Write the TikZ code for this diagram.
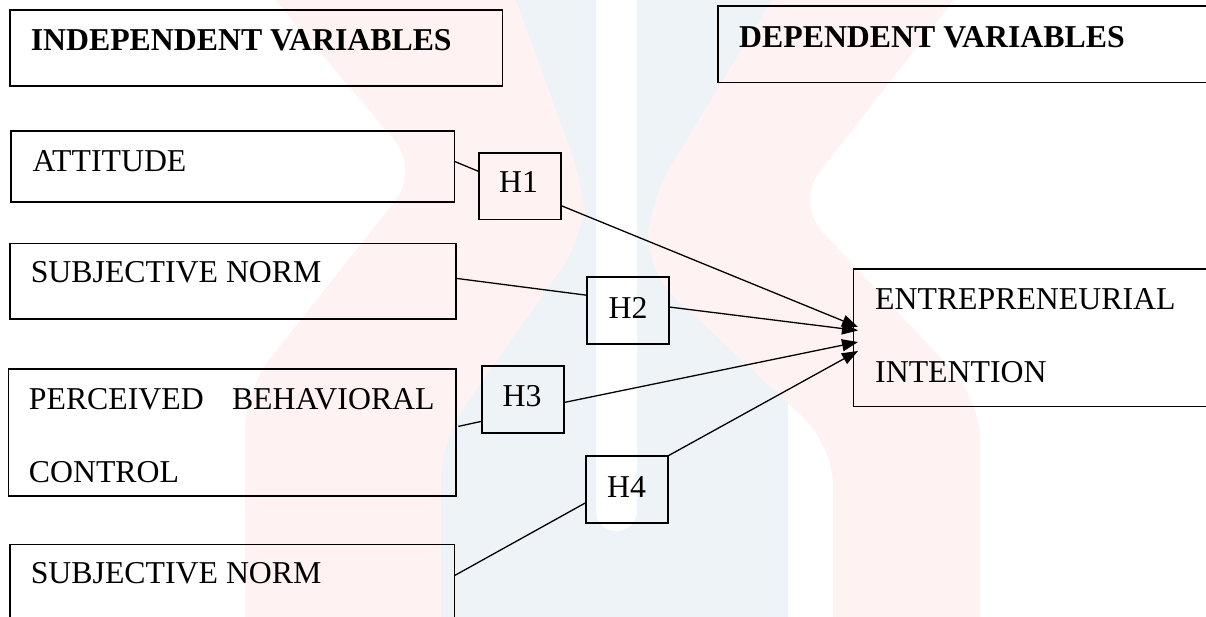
\documentclass[tikz,border=0pt]{standalone}
\usepackage{fontspec}
\setmainfont{Liberation Serif}
\usetikzlibrary{arrows.meta,calc}
\definecolor{wmpink}{HTML}{FEF2F2}
\definecolor{wmblue}{HTML}{EEF3F8}
\begin{document}
\begin{tikzpicture}[x=1pt,y=-1pt,
  box/.style={draw=black, line width=1.8pt, rectangle, inner sep=0pt, outer sep=0pt, anchor=north west},
  lbl/.style={anchor=base west, inner sep=0pt, font=\fontsize{31.8}{38}\selectfont},
  blbl/.style={anchor=base west, inner sep=0pt, font=\fontsize{31.8}{38}\selectfont\bfseries},
  conn/.style={line width=1.3pt, black},
  arr/.style={conn, -{Triangle[length=16pt,width=12pt]}}]
\useasboundingbox (0,0) rectangle (1206,617);
\clip (0,0) rectangle (1206,617);
\fill[white] (0,0) rectangle (1206,617);
% faint watermark
\fill[wmblue] (441,-20) rectangle (788,640);
\fill[white, rounded corners=20pt] (596,-20) -- (596,531) -- (637,531) -- (637,-20) -- cycle;
\fill[wmpink, rounded corners=40pt] (250,-30) -- (420,170) -- (245,390) -- (245,660) -- (441,660) -- (441,440) -- (585,235) -- (585,190) -- (505,-30) -- cycle;
\fill[wmpink, rounded corners=40pt] (790,-30) -- (650,200) -- (645,270) -- (833,445) -- (833,660) -- (980,660) -- (980,400) -- (795,203) -- (977,-30) -- cycle;

% boxes
\node[box, minimum width=492.9pt, minimum height=75.8pt] (ind) at (9.6,10.2) {};
\node[box, minimum width=520pt, minimum height=76.2pt] (dep) at (717.8,6.3) {};
\node[box, minimum width=443.8pt, minimum height=71.4pt] (att) at (10.7,131) {};
\node[box, minimum width=446pt, minimum height=75.8pt] (sn) at (9.6,243.5) {};
\node[box, minimum width=447.2pt, minimum height=126.7pt] (pbc) at (8.4,369.3) {};
\node[box, minimum width=444.9pt, minimum height=110pt] (sntwo) at (9.6,544.5) {};
\node[box, minimum width=380pt, minimum height=137.5pt] (ent) at (853.5,269) {};
\node[box, minimum width=82pt, minimum height=66.8pt] (h1) at (479.3,152.7) {};
\node[box, minimum width=81.7pt, minimum height=66.7pt] (h2) at (587.3,277.3) {};
\node[box, minimum width=82.3pt, minimum height=67pt] (h3) at (481.7,366) {};
\node[box, minimum width=81.5pt, minimum height=67pt] (h4) at (586.3,456) {};

% texts
\node[blbl] (indt) at (30.6,51) {INDEPENDENT VARIABLES};
\node[blbl] (dept) at (739,48) {DEPENDENT VARIABLES};
\node[lbl] (attt) at (32.5,172) {ATTITUDE};
\node[lbl] (snt) at (30.6,283) {SUBJECTIVE NORM};
\node[lbl] (pbct) at (28.7,409) {\makebox[405.7pt][s]{PERCEIVED BEHAVIORAL}};
\node[lbl] (pbctb) at (28.7,482.3) {CONTROL};
\node[lbl] (sntwot) at (30.6,583.3) {SUBJECTIVE NORM};
\node[lbl] (entt) at (875,309) {ENTREPRENEURIAL};
\node[lbl] (enttb) at (875,382) {INTENTION};
\node[lbl] (h1t) at (499,193) {H1};
\node[lbl] (h2t) at (608.5,318) {H2};
\node[lbl] (h3t) at (502.5,406) {H3};
\node[lbl] (h4t) at (607,497) {H4};

% connectors
\draw[conn] ($(att.north east)+(0,30.4)$) -- ($(h1.north west)+(0,19)$);
\draw[conn] ($(sn.north east)+(0,34.8)$) -- ($(h2.north west)+(0,18)$);
\draw[conn] ($(pbc.north east)+(2.7,57.1)$) -- ($(h3.north west)+(0,55.3)$);
\draw[conn] ($(sntwo.north east)+(0,31.1)$) -- ($(h4.north west)+(0,46.4)$);
\draw[arr] ($(h1.north east)+(0,53)$) -- ($(ent.north west)+(4.5,58)$);
\draw[arr] ($(h2.north east)+(0,29.7)$) -- ($(ent.north west)+(4.5,61.5)$);
\draw[arr] ($(h3.north east)+(0,36.5)$) -- ($(ent.north west)+(4.5,73)$);
\draw[arr] (h4.north east) -- ($(ent.north west)+(4.5,82)$);
\end{tikzpicture}
\end{document}
